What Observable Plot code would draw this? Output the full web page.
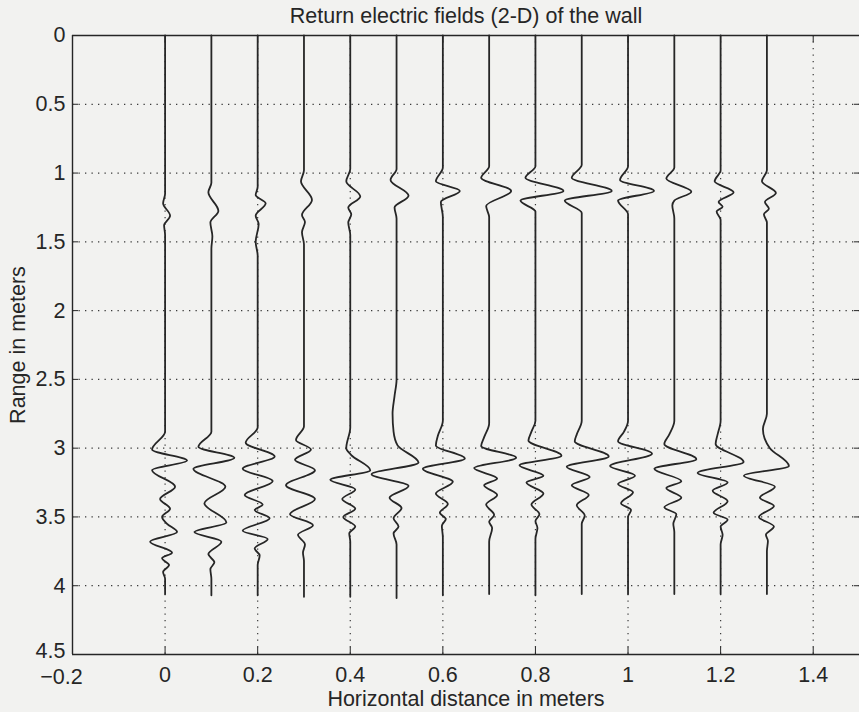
<!DOCTYPE html>
<html><head><meta charset="utf-8">
<script src="https://cdn.jsdelivr.net/npm/d3@7"></script>
<script src="https://cdn.jsdelivr.net/npm/@observablehq/plot@0.6"></script>
<style>
html,body{margin:0;padding:0;background:#f2f2f0;}
svg{display:block;}
</style></head><body><div id="chart"></div>
<script>
const title = "Return electric fields (2-D) of the wall";
const xLabel = "Horizontal distance in meters";
const yLabel = "Range in meters";
const xTicks = [-0.2, 0, 0.2, 0.4, 0.6, 0.8, 1, 1.2, 1.4];
const yTicks = [0, 0.5, 1, 1.5, 2, 2.5, 3, 3.5, 4, 4.5];
const xGrid = [0, 0.2, 0.4, 0.6, 0.8, 1, 1.2, 1.4];
const yGrid = [0.5, 1, 1.5, 2, 2.5, 3, 3.5, 4];
const positions = [0, 0.1, 0.2, 0.3, 0.4, 0.5, 0.6, 0.7, 0.8, 0.9, 1.0, 1.1, 1.2, 1.3];

// [range (m), field amplitude (relative units)]
const trace0 = [[0,0],[1.15,0],[1.22,-2],[1.31,5],[1.38,-1],[1.45,0],
  [2.88,0],[3.01,-13],[3.09,22],[3.16,-13],[3.28,10],[3.37,-5],[3.44,5],[3.50,-3],[3.55,2],[3.61,12],[3.68,-15],[3.76,7],[3.80,-3],[3.85,4],[3.90,-2],[3.95,0],[4.06,0]];
const trace1 = [[0,0],[1.07,0],[1.14,-3],[1.275,7],[1.36,-1],[1.46,1],[1.55,0],
  [2.88,0],[2.99,-13],[3.07,23],[3.15,-18],[3.28,14],[3.40,-7],[3.54,15],[3.61,-17],[3.68,10],[3.77,-3],[3.83,3],[3.88,-1],[3.95,0],[4.07,0]];
const trace2 = [[0,0],[1.1,0],[1.16,-2],[1.22,8],[1.31,-2],[1.37,1],[1.5,-2],[1.6,0],
  [2.85,0],[2.96,-12],[3.06,17],[3.15,-15],[3.24,15],[3.34,-13],[3.41,5],[3.45,-3],[3.51,12],[3.60,-15],[3.66,10],[3.73,-3],[3.78,2],[3.85,0],[4.07,0]];
const trace3 = [[0,0],[0.98,0],[1.06,-3],[1.195,8],[1.305,-2],[1.355,1],[1.43,-2],[1.52,0],
  [2.84,0],[2.94,-8],[3.01,7],[3.085,-9],[3.16,11],[3.27,-18],[3.37,11],[3.48,-14],[3.56,9],[3.63,-6],[3.70,1],[3.76,-1],[3.82,0],[4.08,0]];
const trace4 = [[0,0],[0.97,0],[1.06,-4],[1.17,10],[1.25,-2],[1.30,1],[1.36,-2],[1.45,0],
  [2.85,0],[3.0,-4],[3.05,1],[3.16,20],[3.23,-20],[3.30,5],[3.37,-8],[3.44,5],[3.50,-7],[3.57,5],[3.62,-1],[3.68,0],[4.08,0]];
const trace5 = [[0,0],[0.97,0],[1.05,-6],[1.165,12],[1.25,-2],[1.33,0],
  [2.5,0],[2.62,-2],[2.75,-4],[2.88,-3],[2.98,1],[3.105,22],[3.19,-25],[3.275,12],[3.36,-7],[3.435,5],[3.51,-3],[3.57,2],[3.62,-3],[3.7,0],[4.09,0]];
const trace6 = [[0,0],[0.96,0],[1.06,-7],[1.13,17],[1.21,-2],[1.32,0],
  [2.8,0],[2.91,-5],[2.98,-7],[3.075,22],[3.15,-20],[3.245,10],[3.33,-7],[3.405,5],[3.47,-3],[3.515,3],[3.565,-1],[3.65,0],[4.07,0]];
const trace7 = [[0,0],[0.95,0],[1.035,-8],[1.13,22],[1.24,-3],[1.32,0],
  [2.82,0],[2.92,-5],[2.985,-8],[3.07,27],[3.145,-15],[3.22,8],[3.27,-5],[3.34,8],[3.41,-3],[3.485,5],[3.535,0],[3.58,3],[3.68,0],[4.06,0]];
const trace8 = [[0,0],[0.95,0],[1.035,-10],[1.13,28],[1.20,-15],[1.28,0],
  [2.8,0],[2.88,-4],[2.945,-7],[3.055,26],[3.125,-16],[3.20,8],[3.25,-9],[3.33,8],[3.41,-4],[3.48,4],[3.53,0],[3.58,2],[3.66,0],[4.07,0]];
const trace9 = [[0,0],[0.94,0],[1.035,-10],[1.13,30],[1.20,-17],[1.29,0],
  [2.8,0],[2.9,-5],[2.95,-7],[3.06,27],[3.135,-15],[3.21,8],[3.27,-10],[3.34,7],[3.415,-5],[3.49,3],[3.55,0],[4.06,0]];
const trace10 = [[0,0],[0.95,0],[1.05,-8],[1.13,26],[1.20,-10],[1.3,0],
  [2.8,0],[2.88,-4],[2.95,-10],[3.04,24],[3.13,-18],[3.20,7],[3.26,-10],[3.32,5],[3.40,-7],[3.45,3],[3.5,0],[4.06,0]];
const trace11 = [[0,0],[0.96,0],[1.04,-8],[1.135,17],[1.2,0],[1.235,-2],[1.33,0],
  [2.8,0],[2.9,-5],[2.97,-10],[3.08,22],[3.15,-20],[3.24,7],[3.29,-8],[3.36,7],[3.43,-10],[3.48,2],[3.55,-1],[3.61,0],[4.06,0]];
const trace12 = [[0,0],[0.98,0],[1.06,-6],[1.14,13],[1.21,-2],[1.245,2],[1.28,-4],[1.34,0],
  [2.8,0],[2.9,-3],[2.97,-5],[3.10,23],[3.18,-23],[3.25,7],[3.31,-8],[3.385,7],[3.47,-7],[3.52,7],[3.57,0],[3.63,2],[3.7,0],[4.06,0]];
const trace13 = [[0,0],[0.98,0],[1.06,-5],[1.145,9],[1.21,-2],[1.26,2],[1.30,-3],[1.36,0],
  [2.75,0],[2.86,-4],[3.0,3],[3.13,22],[3.20,-23],[3.28,8],[3.36,-7],[3.42,7],[3.50,-8],[3.57,7],[3.63,-1],[3.675,1],[3.75,0],[4.06,0]];

const traces = [trace0, trace1, trace2, trace3, trace4, trace5, trace6, trace7, trace8, trace9, trace10, trace11, trace12, trace13];
const gain = 0.00216; // metres of horizontal deflection per amplitude unit

const rows = traces.flatMap((t, i) => t.map(([r, a]) => ({trace: i, x: positions[i] + a * gain, range: r})));
const fmt = d => String(Math.round(d * 10) / 10).replace("-", "\u2212");
const ink = "#262626";
const font = "'Liberation Sans', Arial, Helvetica, sans-serif";
const fs = 21.5;
const dots = {stroke: ink, strokeOpacity: 0.9, strokeWidth: 1.2, strokeDasharray: "1.3,5.2"};

const chart = Plot.plot({
  width: 859, height: 712,
  marginTop: 35, marginLeft: 72, marginRight: 0, marginBottom: 58,
  style: {background: "#f2f2f0", fontFamily: font, fontSize: fs + "px", color: ink},
  x: {domain: [-0.2, 1.5]},
  y: {domain: [0, 4.5], reverse: true},
  marks: [
    Plot.gridX(xGrid, dots),
    Plot.gridY(yGrid, dots),
    Plot.ruleX([-0.2], {stroke: ink, strokeWidth: 1.4}),
    Plot.ruleY([0, 4.5], {stroke: ink, strokeWidth: 1.4}),
    Plot.axisY(yTicks, {anchor: "left", tickSize: -6, tickFormat: () => "", label: null, stroke: ink}),
    Plot.axisY(yTicks.filter(d => d < 4.5), {anchor: "left", tickSize: 0, tickPadding: 7, tickFormat: fmt, label: null, fill: ink, fontSize: fs}),
    Plot.axisY(yTicks.filter(d => d >= 4.5), {anchor: "left", tickSize: 0, tickPadding: 7, dy: -3, tickFormat: fmt, label: null, fill: ink, fontSize: fs}),
    Plot.axisY(yTicks, {anchor: "right", tickSize: -6, tickFormat: () => "", label: null, stroke: ink}),
    Plot.axisX(xTicks, {anchor: "bottom", tickSize: -7, tickFormat: () => "", label: null, stroke: ink}),
    Plot.axisX(xTicks.filter(d => d >= 0), {anchor: "bottom", tickSize: 0, tickPadding: 12, tickFormat: fmt, label: null, fill: ink, fontSize: fs}),
    Plot.axisX(xTicks.filter(d => d < 0), {anchor: "bottom", tickSize: 0, tickPadding: 14, dx: -11, tickFormat: fmt, label: null, fill: ink, fontSize: fs}),
    Plot.axisX(xTicks, {anchor: "top", tickSize: -6, tickFormat: () => "", label: null, stroke: ink}),
    Plot.line(rows, {x: "x", y: "range", z: "trace", curve: "monotone-y", stroke: ink, strokeWidth: 1.8}),
    Plot.text([title], {text: d => d, frameAnchor: "top", lineAnchor: "middle", dy: -19, fontSize: fs, fill: ink}),
    Plot.text([yLabel], {text: d => d, frameAnchor: "left", textAnchor: "middle", lineAnchor: "middle", dx: -54, rotate: -90, fontSize: fs, fill: ink}),
    Plot.text([xLabel], {text: d => d, frameAnchor: "bottom", lineAnchor: "middle", dy: 45, fontSize: fs, fill: ink})
  ]
});
document.getElementById("chart").appendChild(chart);
</script></body></html>
